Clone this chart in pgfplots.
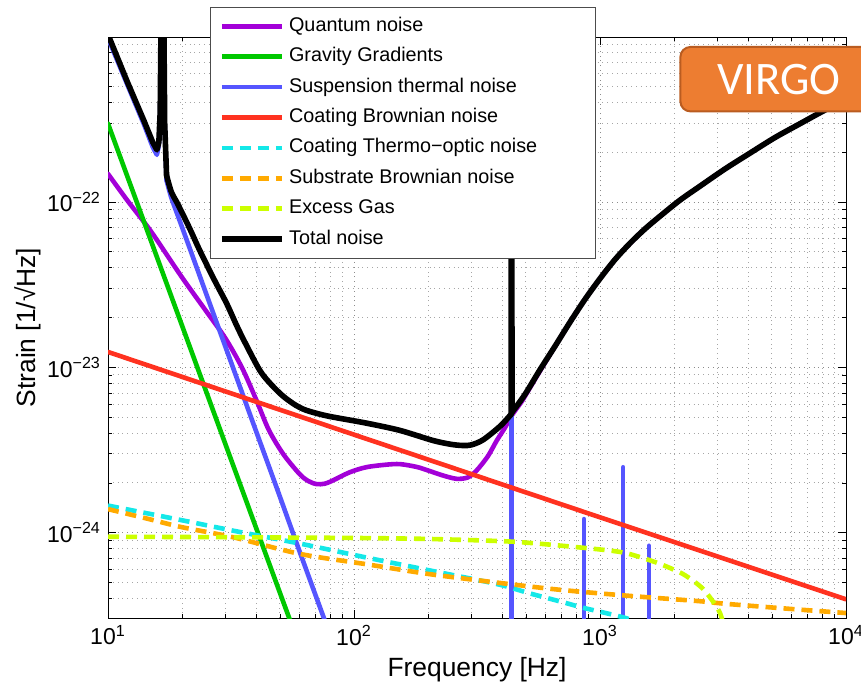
\documentclass[border=0pt]{standalone}
\usepackage{fontspec}
\setmainfont{Liberation Sans}
\newfontfamily\calibri{Carlito}
\usepackage{pgfplots}
\pgfplotsset{compat=1.18}

\definecolor{qn}{RGB}{163,0,216}
\definecolor{gg}{RGB}{0,200,0}
\definecolor{st}{RGB}{85,85,255}
\definecolor{cb}{RGB}{255,50,32}
\definecolor{cto}{RGB}{20,232,232}
\definecolor{sb}{RGB}{255,170,0}
\definecolor{eg}{RGB}{204,255,0}
\definecolor{virgo}{RGB}{237,125,49}
\definecolor{virgoedge}{RGB}{186,92,32}

\pgfplotsset{
  noise/.style={line width=2.3pt, line join=round, line cap=round},
  dashnoise/.style={line width=2.3pt, dash pattern=on 5.5pt off 3.5pt},
  total/.style={line width=2.8pt, black, line join=round, line cap=round},
}

\begin{document}
\begin{tikzpicture}
\begin{axis}[
  scale only axis, width=369pt, height=290.5pt,
  xmode=log, ymode=log,
  xmin=10, xmax=10000, ymin=3.05e-25, ymax=9.95e-22,
  xtick={10,100,1000,10000},
  xticklabels={10\textsuperscript{1},10\textsuperscript{2},10\textsuperscript{3},10\textsuperscript{4}},
  minor xtick={20,30,40,50,60,70,80,90,200,300,400,500,600,700,800,900,2000,3000,4000,5000,6000,7000,8000,9000},
  ytick={1e-24,1e-23,1e-22},
  yticklabels={10\textsuperscript{−24},10\textsuperscript{−23},10\textsuperscript{−22}},
  minor ytick={4e-25,5e-25,6e-25,7e-25,8e-25,9e-25,2e-24,3e-24,4e-24,5e-24,6e-24,7e-24,8e-24,9e-24,2e-23,3e-23,4e-23,5e-23,6e-23,7e-23,8e-23,9e-23,2e-22,3e-22,4e-22,5e-22,6e-22,7e-22,8e-22,9e-22},
  grid=both,
  major grid style={dotted, black!45, line width=0.5pt},
  minor grid style={dotted, black!35, line width=0.5pt},
  tick align=inside,
  major tick length=4pt, minor tick length=2pt,
  tick style={black, line width=0.4pt},
  axis line style={black, line width=0.5pt},
  ticklabel style={font=\fontsize{11.5}{12}\selectfont},
  label style={font=\fontsize{13.2}{14}\selectfont},
  xlabel={Frequency [Hz]},
  ylabel={Strain [1/√Hz]},
  xlabel style={at={(axis description cs:0.5,-0.0895)}, anchor=center},
  ylabel style={at={(axis description cs:-0.1088,0.5)}, anchor=center},
  legend cell align=left,
  legend image code/.code={\draw[#1, line cap=butt] (0pt,0pt) -- (30pt,0pt);},
  legend style={at={(0.1382,1.0522)}, anchor=north west,
    draw=black!70, line width=0.5pt, fill=white,
    font=\fontsize{9.9}{11}\selectfont,
    inner xsep=4.3pt, inner ysep=4pt, row sep=4.2pt, column sep=1.2pt,
    nodes={inner sep=1pt, text height=7pt, text depth=2pt}},
]

% Quantum noise
\addplot[noise, qn, smooth, tension=0.5] table {
10 1.48e-22
12 1.02e-22
15 6.6e-23
20 3.5e-23
25 2.2e-23
30 1.5e-23
35 1.0e-23
40 6.4e-24
45 4.2e-24
51.5 3.0e-24
60 2.27e-24
65 2.06e-24
70.4 1.97e-24
76 1.98e-24
82 2.07e-24
96 2.32e-24
112 2.49e-24
135 2.58e-24
154 2.6e-24
180 2.5e-24
200 2.38e-24
230 2.22e-24
261 2.12e-24
290 2.16e-24
315 2.38e-24
350 2.9e-24
380 3.6e-24
410 4.3e-24
437 5.1e-24
480 6.2e-24
495 6.68e-24
570 9.5e-24
655.5 1.335e-23
754.5 1.873e-23
868 2.574e-23
999 3.436e-23
1150 4.484e-23
1323 5.626e-23
1522 6.87e-23
1752 8.20e-23
2113 1.026e-22
2549 1.247e-22
3221 1.585e-22
4070 1.976e-22
5144 2.455e-22
6501 2.976e-22
8064 3.546e-22
10000 4.172e-22
};
\addlegendentry{Quantum noise}

% Gravity gradients
\addplot[noise, gg] table {
10 2.98e-22
20 1.79e-23
30 3.44e-24
40 1.07e-24
50 4.33e-25
60 2.07e-25
};
\addlegendentry{Gravity Gradients}

% Suspension thermal noise: pendulum resonance, then falling tail
\addplot[noise, st] table {
10 9.8e-22
12 5.1e-22
14 2.95e-22
15.2 2.15e-22
15.8 1.93e-22
16.1 2.2e-22
16.3 3.4e-22
16.45 1.5e-21
16.85 1.5e-21
17.0 2.9e-22
17.3 1.35e-22
};
\addlegendentry{Suspension thermal noise}
\addplot[noise, st, smooth, tension=0.5, forget plot] table {
17.3 1.35e-22
18.1 1.06e-22
19.3 8.15e-23
21.5 5.24e-23
24.3 3.17e-23
27.6 1.88e-23
32.2 1.0e-23
37.7 5.24e-24
44.1 2.76e-24
50 1.65e-24
60.3 7.6e-25
76 2.96e-25
85 1.87e-25
};
% violin modes
\addplot[noise, st, forget plot] table {
437 1e-26
437 2e-21
};
\addplot[noise, st, forget plot] table {
861 1e-26
861 1.21e-24
};
\addplot[noise, st, forget plot] table {
1242 1e-26
1242 2.49e-24
};
\addplot[noise, st, forget plot] table {
1582 1e-26
1582 8.34e-25
};

% Coating Brownian noise
\addplot[noise, cb] table {
10 1.24e-23
100 3.92e-24
1000 1.24e-24
10000 3.96e-25
};
\addlegendentry{Coating Brownian noise}

% Coating thermo-optic noise
\addplot[dashnoise, cto, smooth, tension=0.5] table {
10 1.46e-24
20 1.19e-24
32.2 1.03e-24
60.3 8.6e-25
112.5 7.08e-25
203 5.92e-25
380 4.9e-25
518 4.3e-25
708 3.8e-25
854 3.52e-25
1262 3.06e-25
1500 2.75e-25
};
\addlegendentry{Coating Thermo−optic noise\rule{24pt}{0pt}}

% Substrate Brownian noise
\addplot[dashnoise, sb, smooth, tension=0.5] table {
10 1.39e-24
15 1.2e-24
20 1.08e-24
32.2 9.4e-25
60.3 7.45e-25
112.5 6.45e-25
203 5.62e-25
430 4.89e-25
708 4.5e-25
1326 4.15e-25
2471 3.87e-25
2800 3.8e-25
3376 3.7e-25
6310 3.44e-25
10000 3.27e-25
};
\addlegendentry{Substrate Brownian noise}

% Excess gas
\addplot[dashnoise, eg, smooth, tension=0.4] table {
10 9.46e-25
30 9.4e-25
100 9.3e-25
203 9.17e-25
443 8.83e-25
828 8.15e-25
1242 7.6e-25
1698 6.6e-25
2178 5.62e-25
2630 4.56e-25
3070 3.29e-25
3300 2.2e-25
};
\addlegendentry{Excess Gas}

% Total noise
\addplot[total] table {
10 1.03e-21
12 5.3e-22
14 3.1e-22
15.2 2.3e-22
15.8 2.07e-22
16.1 2.3e-22
16.3 3.5e-22
16.45 1.5e-21
16.85 1.5e-21
17.0 3.0e-22
17.3 1.45e-22
};
\addlegendentry{Total noise}
\addplot[total, smooth, tension=0.5, forget plot] table {
17.3 1.45e-22
18.1 1.15e-22
19.3 9.6e-23
21.5 6.9e-23
23.6 5.1e-23
27 3.4e-23
30.3 2.45e-23
33.3 1.8e-23
36 1.42e-23
41.4 9.6e-24
46 7.9e-24
51.5 6.7e-24
58 5.9e-24
64 5.5e-24
75 5.15e-24
85 4.96e-24
112.5 4.6e-24
153.6 4.16e-24
210 3.61e-24
250 3.42e-24
278 3.37e-24
300 3.4e-24
335 3.65e-24
392 4.4e-24
435 5.2e-24
};
% violin mode in the total
\addplot[total, forget plot] table {
435 5.2e-24
437 2e-21
439 5.35e-24
};
\addplot[total, smooth, tension=0.5, forget plot] table {
439 5.35e-24
495 6.85e-24
570 9.67e-24
655.5 1.339e-23
754.5 1.873e-23
868 2.574e-23
999 3.436e-23
1150 4.484e-23
1323 5.626e-23
1522 6.87e-23
1752 8.20e-23
2113 1.026e-22
2549 1.247e-22
3221 1.585e-22
4070 1.976e-22
5144 2.455e-22
6501 2.976e-22
8064 3.546e-22
10000 4.172e-22
};
\end{axis}

% detector tag
\draw[fill=virgo, draw=virgoedge, line width=1pt, rounded corners=5pt]
  ([xshift=286.2pt,yshift=-5pt]current axis.north west) rectangle
  ([xshift=400pt,yshift=-37.2pt]current axis.north west);
\node[font=\calibri\fontsize{23.3}{24}\selectfont, text=white, inner sep=0pt]
  at ([xshift=335.5pt,yshift=-21.1pt]current axis.north west) {VIRGO};

\pgfresetboundingbox
\path[use as bounding box]
  ([xshift=-54pt,yshift=-34pt]current axis.south west) rectangle
  ([xshift=7.5pt,yshift=18.5pt]current axis.north east);
\end{tikzpicture}
\end{document}
